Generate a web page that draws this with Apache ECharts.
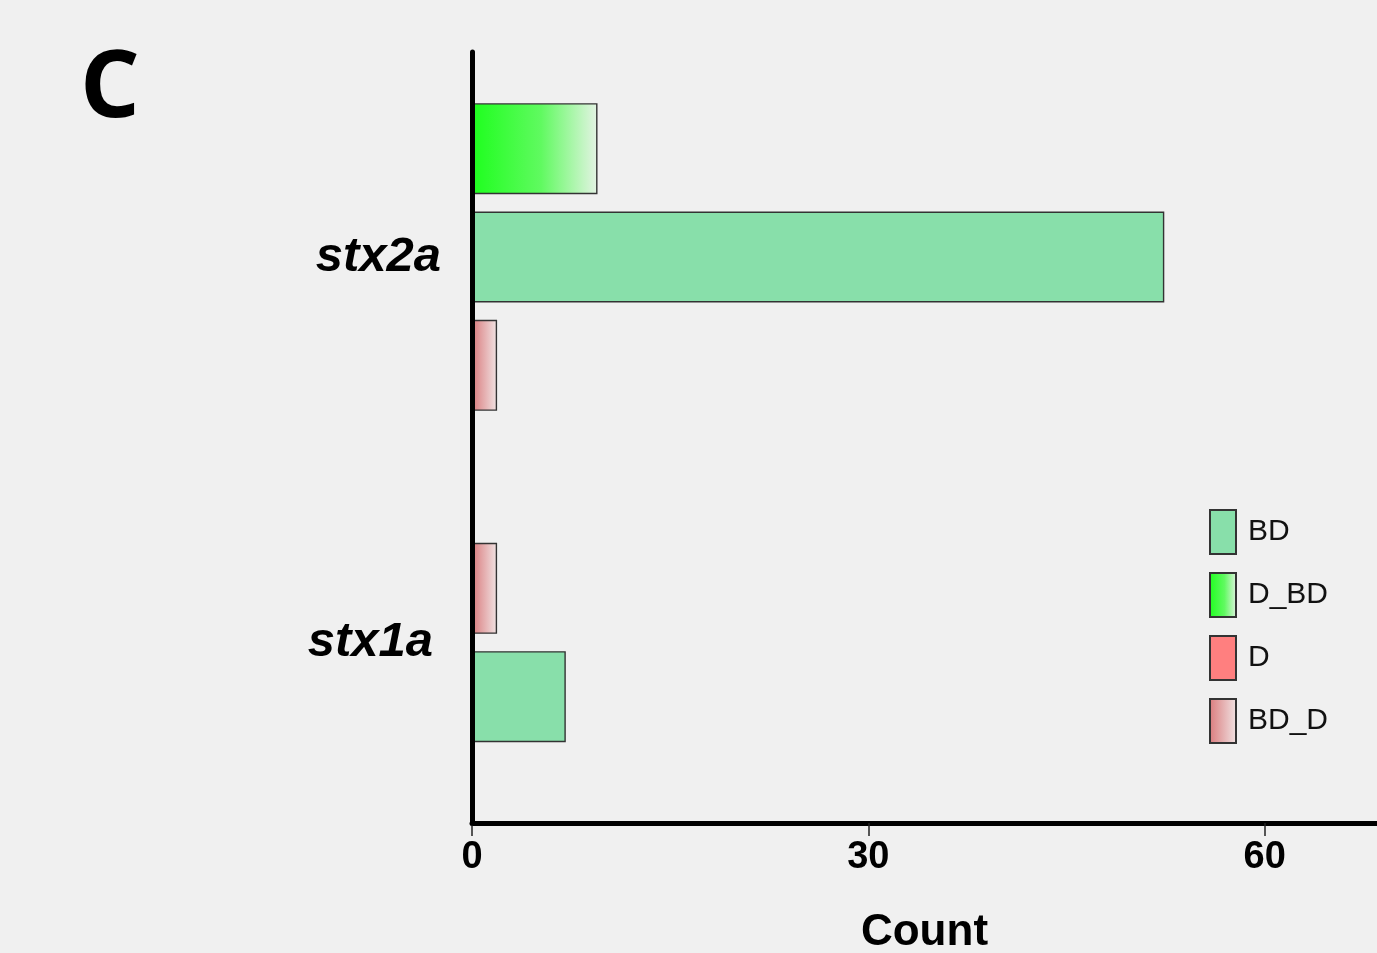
<!DOCTYPE html>
<html>
<head>
<meta charset="utf-8">
<style>
  html, body { margin: 0; padding: 0; background: #f0f0f0; }
  #chart { width: 1377px; height: 953px; }
</style>
<script src="https://cdn.jsdelivr.net/npm/echarts@6/dist/echarts.min.js"></script>
</head>
<body>
<div id="chart"></div>
<script>
// Toxin gene subtypes and the counts of each call type per gene
const genes = ['stx2a', 'stx1a'];
const countBD = [52.4, 7.1];
const countDBD = [9.5, 0];
const countD = [0, 0];
const countBDD = [1.9, 1.9];
const xTicks = [0, 30, 60];
const legendNames = ['BD', 'D_BD', 'D', 'BD_D'];

const G = echarts.graphic;
const styles = {
  BD: { color: '#88dfaa' },
  D_BD: { color: new G.LinearGradient(0, 0, 1, 0, [
    { offset: 0, color: '#1eff1e' },
    { offset: 0.55, color: '#60fa60' },
    { offset: 1, color: '#e4f3e4' }
  ]) },
  D: { color: '#ff7f7f' },
  BD_D: { color: new G.LinearGradient(0, 0, 1, 0, [
    { offset: 0, color: '#d97a7c' },
    { offset: 1, color: '#f1e4e4' }
  ]) }
};
const valuesOf = { BD: countBD, D_BD: countDBD, D: countD, BD_D: countBDD };

// Bar order inside each gene group, top to bottom
const groupOrder = [
  ['D_BD', 'BD', 'BD_D'],
  ['BD_D', 'BD']
];

const X_MAX = 68.5;
const chart = echarts.init(document.getElementById('chart'));

const barBorder = { borderColor: '#333', borderWidth: 1.4 };
const series = [];
genes.forEach((g, gi) => {
  groupOrder[gi].forEach(name => {
    const v = valuesOf[name][gi];
    series.push({
      name: name,
      type: 'bar',
      xAxisIndex: gi,
      yAxisIndex: gi,
      barWidth: 91,
      barGap: '19%',
      data: [v > 0 ? v : null],
      itemStyle: Object.assign({}, barBorder, styles[name]),
      emphasis: { disabled: true }
    });
  });
});
// D calls: listed in the legend, stacked into the top slot so they take no extra room
series.push({
  name: 'D',
  type: 'bar',
  xAxisIndex: 0,
  yAxisIndex: 0,
  stack: 'top',
  barWidth: 91,
  data: [countD[0] > 0 ? countD[0] : null],
  itemStyle: Object.assign({}, barBorder, styles.D)
});
series[0].stack = 'top';

const yLabelMargin = [31, 39];
const yLabelPadTop = [0, 20];
const grids = [
  { left: 472, right: 0, top: 52, height: 410, outerBoundsMode: 'none', containLabel: false },
  { left: 472, right: 0, top: 462, bottom: 130, outerBoundsMode: 'none', containLabel: false }
];

const boldNum = {
  color: '#000',
  fontFamily: 'Liberation Sans, Arial, sans-serif',
  fontWeight: 'bold'
};

chart.setOption({
  backgroundColor: '#f0f0f0',
  animation: false,
  grid: grids,
  legend: {
    data: legendNames,
    orient: 'vertical',
    left: 1209,
    top: 509,
    padding: 0,
    itemWidth: 26,
    itemHeight: 44,
    itemGap: 17,
    icon: 'rect',
    textStyle: {
      fontFamily: 'Liberation Sans, Arial, sans-serif',
      fontSize: 30,
      color: '#111',
      padding: [0, 0, 0, 7]
    }
  },
  xAxis: genes.map((g, gi) => ({
    type: 'value',
    gridIndex: gi,
    min: 0,
    max: X_MAX,
    show: gi === 1,
    splitLine: { show: false },
    axisLine: { show: true, lineStyle: { color: '#000', width: 5 } },
    axisTick: {
      show: true,
      customValues: xTicks,
      length: 13,
      lineStyle: { color: '#222', width: 1.5 }
    },
    axisLabel: Object.assign({
      customValues: xTicks,
      margin: 16,
      fontSize: 38
    }, boldNum),
    name: gi === 1 ? 'Count' : '',
    nameLocation: 'middle',
    nameGap: 88,
    nameTextStyle: Object.assign({ fontSize: 44 }, boldNum)
  })),
  yAxis: genes.map((g, gi) => ({
    type: 'category',
    gridIndex: gi,
    data: [g],
    z: 5,
    axisLine: { show: true, lineStyle: { color: '#000', width: 5 } },
    axisTick: { show: false },
    splitLine: { show: false },
    axisLabel: {
      margin: yLabelMargin[gi],
      padding: [yLabelPadTop[gi], 0, 0, 0],
      color: '#000',
      fontFamily: 'Liberation Sans, Arial, sans-serif',
      fontStyle: 'italic',
      fontWeight: 'bold',
      fontSize: 49
    }
  })),
  graphic: [{
    type: 'text',
    left: 80,
    top: 43,
    style: {
      text: 'C',
      fontFamily: 'Open Sans, sans-serif',
      fontWeight: 'bold',
      fontSize: 94,
      fill: '#000'
    }
  }],
  series: series
});
</script>
</body>
</html>
